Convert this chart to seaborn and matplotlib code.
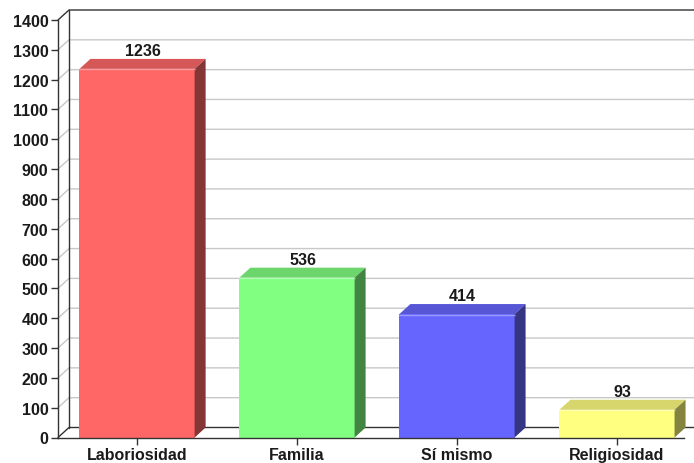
import numpy as np
import pandas as pd
import matplotlib
matplotlib.use("Agg")
import matplotlib.pyplot as plt
from matplotlib.patches import Polygon
from matplotlib.lines import Line2D
from matplotlib.transforms import IdentityTransform
import seaborn as sns

categories = ["Laboriosidad", "Familia", "Sí mismo", "Religiosidad"]
values = [1236, 536, 414, 93]
front_colors = ["#FF6666", "#80FF80", "#6666FF", "#FFFF80"]
top_colors = ["#D65757", "#6CD66C", "#5757D6", "#D6D66C"]
side_colors = ["#843535", "#428442", "#353584", "#84843F"]
yticks = list(range(0, 1401, 100))

sns.set_theme(style="white")
plt.rcParams["font.family"] = ["Liberation Sans", "DejaVu Sans"]

W, H = 694, 464
DPI = 100
fig = plt.figure(figsize=(W / DPI, H / DPI), dpi=DPI)
fig.patch.set_facecolor("white")

# front plane of the plot (pixels)
x_left, x_right = 58, 684
y_bottom, y_top = 438.5, 21
ax = fig.add_axes([x_left / W, (H - y_bottom) / H, (x_right - x_left) / W, (y_bottom - y_top) / H])
ax.set_facecolor("none")

df = pd.DataFrame({"cat": categories, "val": values})
sns.barplot(data=df, x="cat", y="val", hue="cat", palette=front_colors, width=0.72,
            saturation=1, legend=False, ax=ax, edgecolor="none", zorder=2)

ax.set_ylim(0, 1400)
ax.set_xlim(-0.494, 3.419)
ax.set_yticks(yticks)
ax.set_yticklabels([str(t) for t in yticks])
ax.set_xlabel("")
ax.set_ylabel("")
for s in ["top", "right"]:
    ax.spines[s].set_visible(False)
for s in ["left", "bottom"]:
    ax.spines[s].set_color("#333333")
    ax.spines[s].set_linewidth(1.0)
ax.tick_params(axis="both", which="both", direction="out", length=5, width=1, color="#333333",
               labelsize=11.5, labelcolor="#1a1a1a", pad=2, left=True, bottom=True)
for lab in ax.get_yticklabels() + ax.get_xticklabels():
    lab.set_fontweight("bold")

fig.canvas.draw()
T = ax.transData
ID = IdentityTransform()
DX, DY = 11, 10

def disp(x, y):
    return T.transform((x, y))

# back wall and grid
bx1 = W + 5
for v in yticks:
    fx, fy = disp(ax.get_xlim()[0], v)
    if v in (0, 1400):
        col, lw = "#333333", 1.0
    else:
        col, lw = "#C8C8C8", 1.0
    ax.add_line(Line2D([fx, fx + DX, bx1], [fy, fy + DY, fy + DY], color=col, lw=lw,
                       transform=ID, clip_on=False, zorder=0.5))
fx, fy0 = disp(ax.get_xlim()[0], 0)
_, fy1 = disp(ax.get_xlim()[0], 1400)
ax.add_line(Line2D([fx + DX, fx + DX], [fy0 + DY, fy1 + DY], color="#333333", lw=1.0,
                   transform=ID, clip_on=False, zorder=0.6))

# 3D faces of bars
bars = [p for p in ax.patches]
for i, p in enumerate(bars):
    x0 = p.get_x()
    x1 = x0 + p.get_width()
    h = p.get_height()
    (ax0, ay0) = disp(x0, 0)
    (ax1, ay1) = disp(x1, h)
    top = Polygon([[ax0, ay1], [ax1, ay1], [ax1 + DX, ay1 + DY], [ax0 + DX, ay1 + DY]],
                  closed=True, facecolor=top_colors[i], edgecolor="none", transform=ID,
                  clip_on=False, zorder=2.1)
    side = Polygon([[ax1, ay0], [ax1, ay1], [ax1 + DX, ay1 + DY], [ax1 + DX, ay0 + DY]],
                   closed=True, facecolor=side_colors[i], edgecolor="none", transform=ID,
                   clip_on=False, zorder=2.1)
    ax.add_patch(top)
    ax.add_patch(side)
    ax.add_line(Line2D([ax0, ax1], [ay1 - 0.5, ay1 - 0.5], color="white", alpha=0.35, lw=1,
                       transform=ID, clip_on=False, zorder=2.2))
    ax.text((ax0 + ax1) / 2 + DX / 2, ay1 + DY + 1, str(values[i]), transform=ID,
            ha="center", va="bottom", fontsize=11.5, fontweight="bold", color="#1a1a1a",
            zorder=3)

fig.savefig("out.png", dpi=DPI, facecolor="white")
